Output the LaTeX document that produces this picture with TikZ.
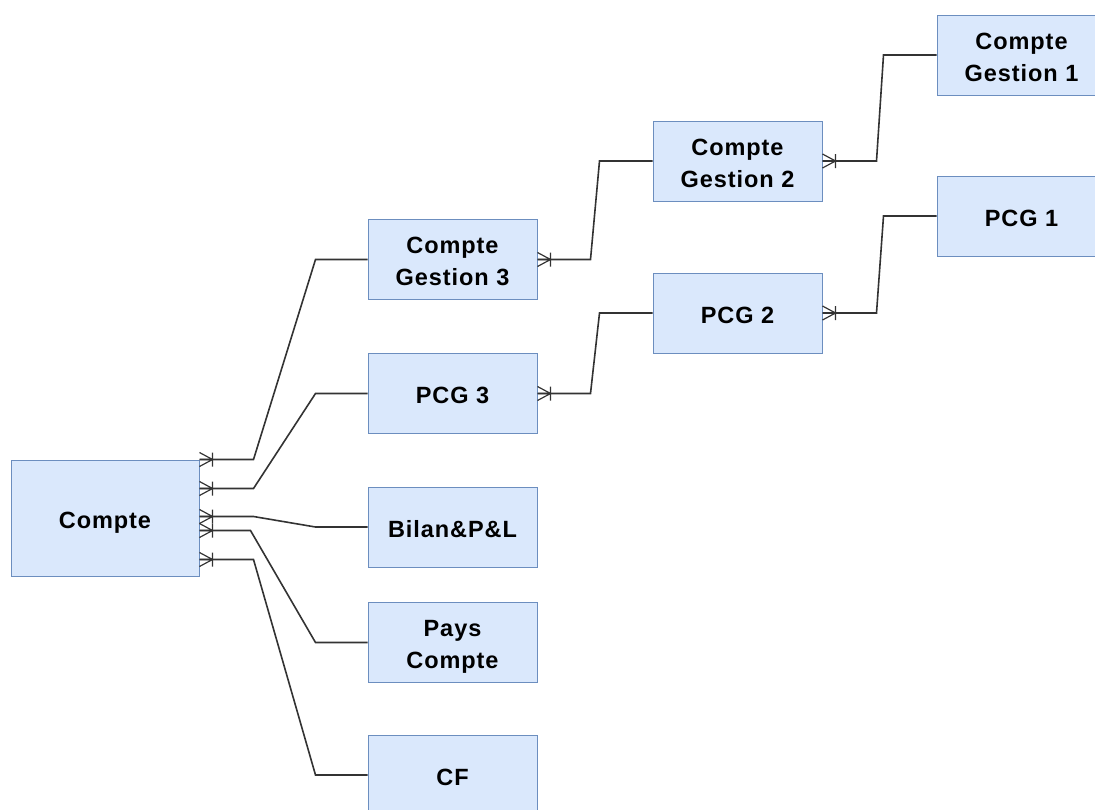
\documentclass[tikz,border=0pt]{standalone}
\usepackage{fontspec}
\setmainfont{Liberation Sans}[LetterSpace=4]
\begin{document}
\begin{tikzpicture}[x=1pt,y=-1pt,
  caption/.style={font=\fontsize{23.5}{32}\selectfont\bfseries, align=center,
    inner sep=0pt, text depth=0pt, yshift=-2pt},
  entity/.style={draw=boxline, fill=boxfill, line width=1pt,
    minimum width=169pt, minimum height=80pt, inner sep=0pt,
    label={[caption]center:#1}},
  link/.style={draw=black!80, line width=1.6pt},
  foot/.pic={\draw[link, line width=1.2pt] (0,-7)--(13,0)--(0,7) (0,0)--(13,0) (13,-7)--(13,7);}
]
\definecolor{boxfill}{HTML}{DAE8FC}
\definecolor{boxline}{HTML}{6C8EBF}
\useasboundingbox (0,0) rectangle (1095,809);

% entities
\node[entity={Compte}, minimum width=188pt, minimum height=116pt] (cmp) at (105,518) {};
\node[entity={Compte\\Gestion 3}] (cg3) at (452.5,259.5) {};
\node[entity={PCG 3}] (pcg3) at (452.5,393.5) {};
\node[entity={Bilan\&P\&L}] (bil) at (452.5,527) {};
\node[entity={Pays\\Compte}] (pays) at (452.5,642.5) {};
\node[entity={CF}] (cf) at (452.5,775) {};
\node[entity={Compte\\Gestion 2}] (cg2) at (737.5,161) {};
\node[entity={PCG 2}] (pcg2) at (737.5,313) {};
\node[entity={Compte\\Gestion 1}] (cg1) at (1021.5,55) {};
\node[entity={PCG 1}] (pcg1) at (1021.5,216) {};

% relations from Compte
\coordinate (s1) at ([yshift=0pt]cmp.north east);
\coordinate (s2) at ([yshift=-29pt]cmp.north east);
\coordinate (s3) at ([yshift=-57pt]cmp.north east);
\coordinate (s4) at ([yshift=-71pt]cmp.north east);
\coordinate (s5) at ([yshift=-100pt]cmp.north east);
\draw[link] (s1) -- ++(54,0) -- ([xshift=-52pt]cg3.west) -- (cg3.west);
\draw[link] (s2) -- ++(54,0) -- ([xshift=-52pt]pcg3.west) -- (pcg3.west);
\draw[link] (s3) -- ++(54,0) -- ([xshift=-52pt]bil.west) -- (bil.west);
\draw[link] (s4) -- ++(51,0) -- ([xshift=-52pt]pays.west) -- (pays.west);
\draw[link] (s5) -- ++(54,0) -- ([xshift=-52pt]cf.west) -- (cf.west);
\foreach \s in {s1,s2,s3,s4,s5} \pic at (\s) {foot};

% second level
\draw[link] (cg3.east) -- ++(53,0) -- ([xshift=-53pt]cg2.west) -- (cg2.west);
\draw[link] (pcg3.east) -- ++(53,0) -- ([xshift=-53pt]pcg2.west) -- (pcg2.west);
\pic at (cg3.east) {foot};
\pic at (pcg3.east) {foot};

% third level
\draw[link] (cg2.east) -- ++(54,0) -- ([xshift=-53pt]cg1.west) -- (cg1.west);
\draw[link] (pcg2.east) -- ++(54,0) -- ([xshift=-53pt]pcg1.west) -- (pcg1.west);
\pic at (cg2.east) {foot};
\pic at (pcg2.east) {foot};
\end{tikzpicture}
\end{document}
